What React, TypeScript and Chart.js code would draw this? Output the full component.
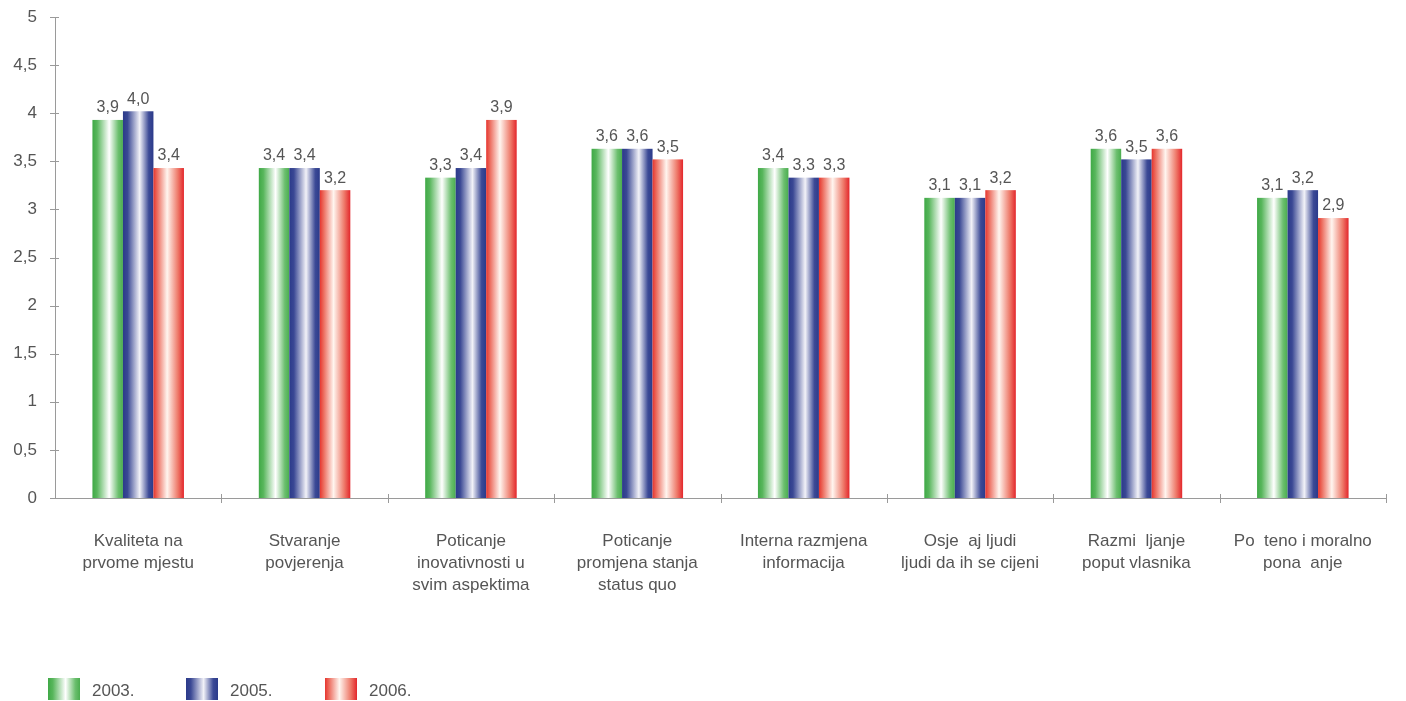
import React, { useEffect, useRef } from "react";
import { Chart, registerables } from "chart.js";

Chart.register(...registerables);

const categories: string[][] = [
  ["Kvaliteta na", "prvome mjestu"],
  ["Stvaranje", "povjerenja"],
  ["Poticanje", "inovativnosti u", "svim aspektima"],
  ["Poticanje", "promjena stanja", "status quo"],
  ["Interna razmjena", "informacija"],
  ["Osje  aj ljudi", "ljudi da ih se cijeni"],
  ["Razmi  ljanje", "poput vlasnika"],
  ["Po  teno i moralno", "pona  anje"],
];

const series2003 = [3.93, 3.43, 3.33, 3.63, 3.43, 3.12, 3.63, 3.12];
const series2005 = [4.02, 3.43, 3.43, 3.63, 3.33, 3.12, 3.52, 3.2];
const series2006 = [3.43, 3.2, 3.93, 3.52, 3.33, 3.2, 3.63, 2.91];

const seriesLabels = ["2003.", "2005.", "2006."];
const yTicks = [0, 0.5, 1, 1.5, 2, 2.5, 3, 3.5, 4, 4.5, 5];

const gradientStops: [number, string][][] = [
  [
    [0, "#3fa946"],
    [0.15, "#58b65c"],
    [0.55, "#ffffff"],
    [0.85, "#6cbf6f"],
    [1, "#4aad4f"],
  ],
  [
    [0, "#2b3a8a"],
    [0.15, "#3a4894"],
    [0.55, "#f2f2f8"],
    [0.85, "#3c4a96"],
    [1, "#2b3a8a"],
  ],
  [
    [0, "#e6352f"],
    [0.12, "#ec6a5c"],
    [0.45, "#fff5ef"],
    [0.8, "#ee7a6a"],
    [1, "#e3262b"],
  ],
];

const FONT = "'Liberation Sans', Arial, Helvetica, sans-serif";
const TEXT = "#555555";
const AXIS = "#9a9a9a";

function makeGradient(ctx: CanvasRenderingContext2D, x0: number, x1: number, idx: number) {
  const g = ctx.createLinearGradient(x0, 0, x1, 0);
  for (const [o, c] of gradientStops[idx]) g.addColorStop(o, c);
  return g;
}

const gradientBars = {
  id: "gradientBars",
  afterDatasetsDraw(chart: any) {
    const ctx: CanvasRenderingContext2D = chart.ctx;
    ctx.save();
    chart.data.datasets.forEach((ds: any, di: number) => {
      const meta = chart.getDatasetMeta(di);
      meta.data.forEach((el: any, i: number) => {
        const { x, y, base, width } = el.getProps(["x", "y", "base", "width"], true);
        const x0 = x - width / 2;
        const x1 = x + width / 2;
        ctx.fillStyle = makeGradient(ctx, x0, x1, di);
        ctx.fillRect(x0, y, width, base - y);
        const v = ds.data[i] as number;
        ctx.fillStyle = TEXT;
        ctx.font = `16px ${FONT}`;
        ctx.textAlign = "center";
        ctx.textBaseline = "bottom";
        ctx.fillText(v.toFixed(1).replace(".", ","), x, y - 4);
      });
    });
    ctx.restore();
  },
};

const axisTicks = {
  id: "axisTicks",
  afterDraw(chart: any) {
    const ctx: CanvasRenderingContext2D = chart.ctx;
    const xs = chart.scales.x;
    const ys = chart.scales.y;
    const area = chart.chartArea;
    ctx.save();
    ctx.strokeStyle = AXIS;
    ctx.lineWidth = 1;
    ctx.beginPath();
    yTicks.forEach((t) => {
      const py = Math.round(ys.getPixelForValue(t)) + 0.5;
      ctx.moveTo(area.left - 5, py);
      ctx.lineTo(area.left + 4, py);
    });
    const n = categories.length;
    const step = xs.getPixelForValue(1) - xs.getPixelForValue(0);
    for (let i = 1; i <= n; i++) {
      const px = Math.round(xs.getPixelForValue(i - 1) + step / 2) + 0.5;
      ctx.moveTo(px, area.bottom - 4);
      ctx.lineTo(px, area.bottom + 5);
    }
    ctx.stroke();

    // legend
    const lx = [48, 186, 325];
    const ly = 678;
    seriesLabels.forEach((lab, i) => {
      ctx.fillStyle = makeGradient(ctx, lx[i], lx[i] + 32, i);
      ctx.fillRect(lx[i], ly, 32, 22);
      ctx.fillStyle = TEXT;
      ctx.font = `17px ${FONT}`;
      ctx.textAlign = "left";
      ctx.textBaseline = "middle";
      ctx.fillText(lab, lx[i] + 44, ly + 13);
    });
    ctx.restore();
  },
};

export default function App() {
  const ref = useRef<HTMLCanvasElement | null>(null);
  useEffect(() => {
    if (!ref.current) return;
    const chart = new Chart(ref.current, {
      type: "bar",
      data: {
        labels: categories,
        datasets: [
          { label: seriesLabels[0], data: series2003, backgroundColor: "rgba(0,0,0,0)" },
          { label: seriesLabels[1], data: series2005, backgroundColor: "rgba(0,0,0,0)" },
          { label: seriesLabels[2], data: series2006, backgroundColor: "rgba(0,0,0,0)" },
        ],
      },
      options: {
        animation: false,
        responsive: false,
        maintainAspectRatio: false,
        layout: { padding: { left: 0, right: 20, top: 0, bottom: 0 } },
        plugins: {
          legend: { display: false },
          tooltip: { enabled: false },
        },
        datasets: { bar: { barPercentage: 1, categoryPercentage: 0.55 } },
        scales: {
          x: {
            grid: { display: false },
            border: { display: true, color: AXIS, width: 1 },
            ticks: {
              color: TEXT,
              font: { family: FONT, size: 17, lineHeight: 1.3 },
              padding: 24,
              maxRotation: 0,
              autoSkip: false,
            },
            afterFit: (s: any) => {
              s.height = 203;
            },
          },
          y: {
            min: 0,
            max: 5,
            afterBuildTicks: (s: any) => {
              s.ticks = yTicks.map((v) => ({ value: v }));
            },
            grid: { display: false },
            border: { display: true, color: AXIS, width: 1 },
            ticks: {
              color: TEXT,
              font: { family: FONT, size: 17 },
              padding: 10,
              callback: (v: any) => String(v).replace(".", ","),
            },
            afterFit: (s: any) => {
              s.width = 55;
              s.paddingTop = 17;
              s.paddingBottom = 0;
            },
          },
        },
      },
      plugins: [gradientBars, axisTicks],
    });
    return () => chart.destroy();
  }, []);
  return (
    <div style={{ position: "fixed", left: 0, top: 0, width: 1406, height: 701, background: "#fff" }}>
      <canvas ref={ref} width={1406} height={701} style={{ width: 1406, height: 701, display: "block" }} />
    </div>
  );
}
